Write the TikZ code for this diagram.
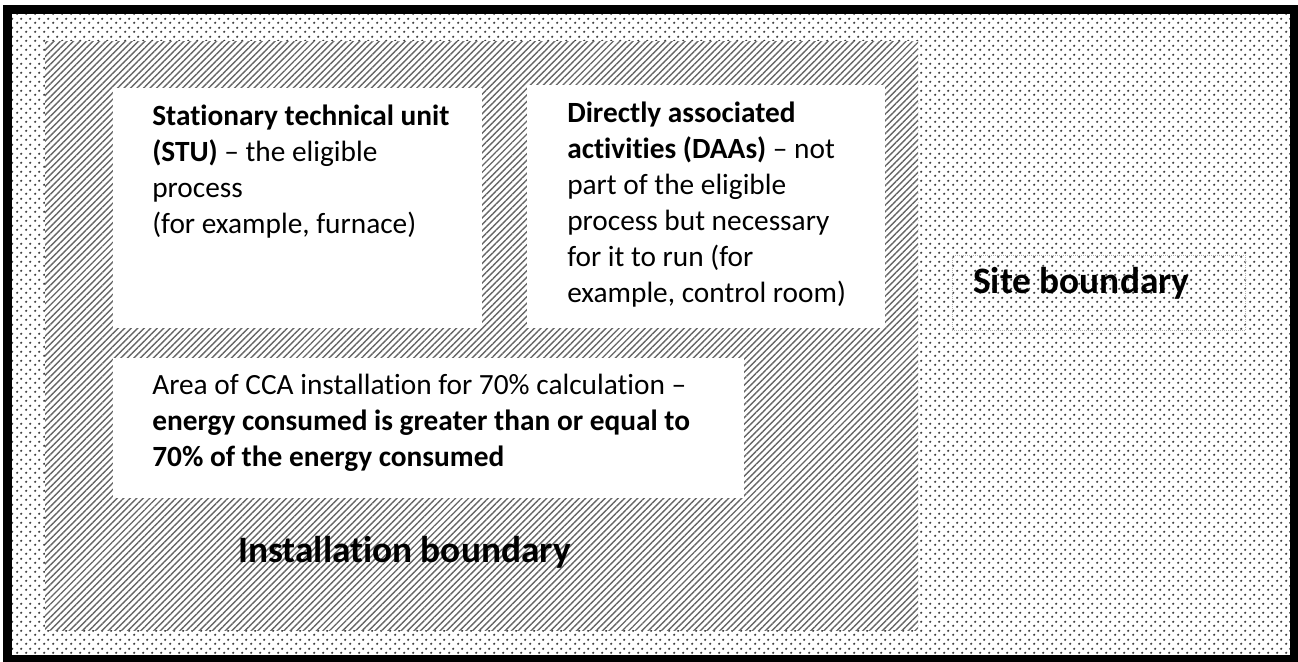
\documentclass[tikz,border=0pt]{standalone}
\usepackage{fontspec}
\setmainfont{Carlito}[Ligatures={TeX,CommonOff}]
\usetikzlibrary{patterns.meta}
\def\pu{0.75pt}
\tikzset{
  wbox/.style={fill=white, draw=none, anchor=north west, inner sep=0pt, outer sep=0pt},
  bodytxt/.style={anchor=north west, inner sep=0pt, align=left, font=\fontsize{22}{27}\selectfont},
  biglabel/.style={anchor=base west, inner sep=0pt, font=\fontsize{28}{33}\selectfont\bfseries},
  sitefillA/.style={pattern={Dots[distance=6.5pt,radius=0.95pt]}, pattern color=black!75},
  sitefillB/.style={pattern={Dots[distance=6.5pt,radius=0.95pt,xshift=3.25pt,yshift=3.25pt]}, pattern color=black!75},
  instfill/.style={pattern={Lines[angle=45,distance=3.45pt,line width=1.05pt]}, pattern color=black!60},
  frame/.style={draw=black, line width=6.75pt},
  labelbox/.style={draw=black!30, densely dotted, line width=0.5pt, anchor=north west, inner sep=0pt},
}
\begin{document}
\begin{tikzpicture}[x=0.75pt,y=-0.75pt]
\fill[white] (0,0) rectangle (1298,661);
\useasboundingbox (0,0) rectangle (1298,661);
% site area (dotted)
\fill[white] (12,13) rectangle (1290,655);
\fill[sitefillA] (12,13) rectangle (1290,655);
\fill[sitefillB] (12,13) rectangle (1290,655);
% installation area (hatched)
\fill[white] (45,41) rectangle (918,630);
\fill[instfill] (45,41) rectangle (918,630);
% white boxes
\node[wbox, minimum width=369*\pu, minimum height=240*\pu] (stu) at (113,88) {};
\node[wbox, minimum width=358*\pu, minimum height=243*\pu] (daa) at (527,85) {};
\node[wbox, minimum width=631*\pu, minimum height=140*\pu] (cca) at (113,358) {};
% texts
\node[bodytxt] (stutext) at ([xshift=39*\pu, yshift=-11.8*\pu]stu.north west)
  {\strut\textbf{Stationary technical unit}\\\textbf{(STU)} – the eligible\\process\\(for example, furnace)};
\node[bodytxt] (daatext) at ([xshift=40*\pu, yshift=-11.8*\pu]daa.north west)
  {\strut\textbf{Directly associated}\\\textbf{activities (DAAs)} – not\\part of the eligible\\process but necessary\\for it to run (for\\example, control room)};
\node[bodytxt] (ccatext) at ([xshift=39*\pu, yshift=-10.8*\pu]cca.north west)
  {\strut Area of CCA installation for 70\% calculation –\\\textbf{energy consumed is greater than or equal to}\\\textbf{70\% of the energy consumed}};
% labels
\node[labelbox, minimum width=293*\pu, minimum height=75*\pu] (sitebox) at (952,255) {};
\node[biglabel] (site) at (973,293) {Site boundary};
\node[biglabel] (inst) at (238,562) {Installation boundary};
% outer frame
\draw[frame] (7.5,9) rectangle (1294,659);
\end{tikzpicture}
\end{document}
